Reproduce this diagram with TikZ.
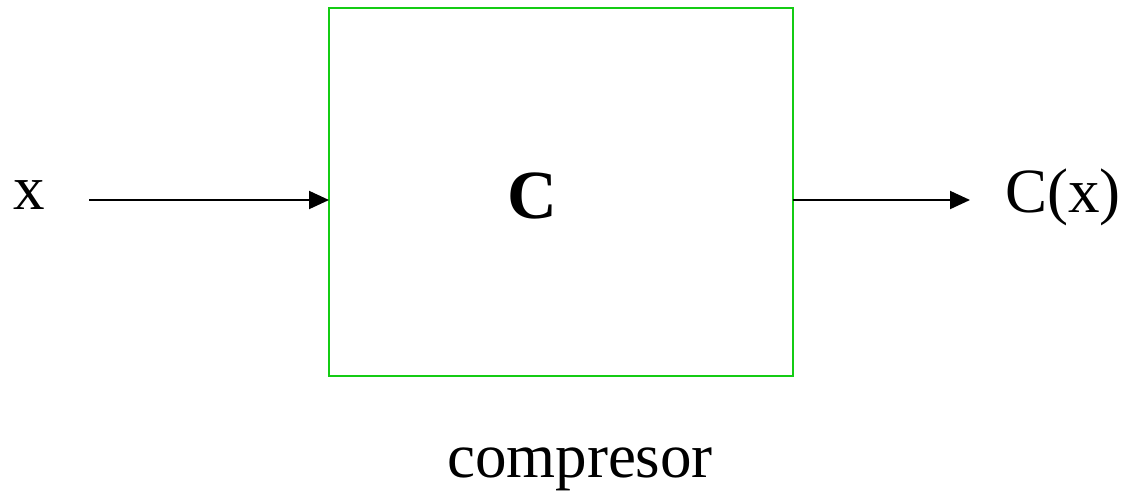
\documentclass[tikz,border=0pt]{standalone}
\usepackage{fontspec}
\setmainfont{Liberation Serif}
\usetikzlibrary{arrows.meta}
\definecolor{boxgreen}{RGB}{20,204,20}
\begin{document}
\begin{tikzpicture}[x=1pt,y=-1pt,
  lbl/.style={inner sep=0pt,anchor=base,font=\fontsize{63}{70}\selectfont},
  conn/.style={line width=2pt,-{Triangle[length=20pt,width=18pt]}},
  blk/.style={draw=boxgreen,line width=2pt,minimum width=464pt,minimum height=368pt,inner sep=0pt}]
\useasboundingbox (0,0) rectangle (1124,490);
\node[blk] (box) at (561,192) {};
\node[lbl,font=\fontsize{69}{75}\selectfont\bfseries] (c) at (532,218) {C};
\node[lbl] (x) at (29,209) {x};
\node[lbl] (cx) at (1063,212) {C(x)};
\node[lbl] (comp) at (580,477) {compresor};
\coordinate (xin) at (89,200);
\coordinate (bin) at (329,200);
\coordinate (bout) at (793,200);
\coordinate (xout) at (970,200);
\draw[conn] (xin) -- (bin);
\draw[conn] (bout) -- (xout);
\end{tikzpicture}
\end{document}
